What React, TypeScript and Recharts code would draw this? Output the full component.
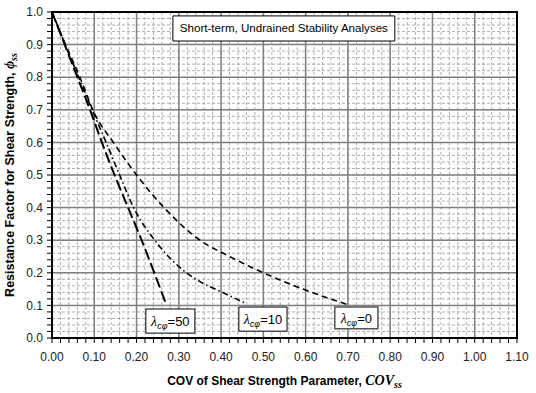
import { LineChart, Line, XAxis, YAxis, CartesianGrid, ReferenceArea } from "recharts"

// COV of shear strength vs resistance factor
const cov50 = [0, 0.03, 0.06, 0.09, 0.118, 0.148, 0.18, 0.212, 0.242, 0.271]
const phi50 = [1.0, 0.9, 0.8, 0.7, 0.6, 0.5, 0.4, 0.3, 0.2, 0.1]

const cov10 = [0, 0.031, 0.063, 0.095, 0.128, 0.16, 0.193, 0.243, 0.318, 0.35, 0.4, 0.455]
const phi10 = [1.0, 0.9, 0.8, 0.7, 0.6, 0.5, 0.4, 0.3, 0.2, 0.173, 0.142, 0.108]

const cov0 = [0, 0.032, 0.066, 0.1, 0.145, 0.2, 0.265, 0.35, 0.42, 0.5, 0.6, 0.7]
const phi0 = [1.0, 0.9, 0.8, 0.69, 0.6, 0.5, 0.4, 0.3, 0.25, 0.2, 0.147, 0.102]

const xMajor = [0, 0.1, 0.2, 0.3, 0.4, 0.5, 0.6, 0.7, 0.8, 0.9, 1.0, 1.1]
const yMajor = [0, 0.1, 0.2, 0.3, 0.4, 0.5, 0.6, 0.7, 0.8, 0.9, 1.0]
const X_DOMAIN: [number, number] = [0, 1.1]
const Y_DOMAIN: [number, number] = [0, 1]

const xMinor = Array.from({ length: 56 }, (_, i) => +(i * 0.02).toFixed(2))
const yMinor = Array.from({ length: 51 }, (_, i) => +(i * 0.02).toFixed(2))

const toPoints = (xs: number[], ys: number[]) => xs.map((x, i) => ({ x, y: ys[i] }))

const isMajor = (v: number) => Math.abs(v * 10 - Math.round(v * 10)) < 1e-6

// axis scale in recharts 3 may be a function or a wrapper object
function applyScale(axis: any, v: number, fallback: () => number) {
  const s = axis && axis.scale
  if (typeof s === "function") return s(v)
  if (s && typeof s.map === "function") return s.map(v)
  if (s && typeof s.apply === "function") return s.apply(v)
  return fallback()
}

const FONT = "'Liberation Sans', Arial, sans-serif"
const SERIF = "'Liberation Serif', serif"

function LambdaLabel({ viewBox, n }: any) {
  const { x, y, width, height } = viewBox
  return (
    <text x={x + width / 2} y={y + height / 2 + 5} textAnchor="middle" fontSize={13} fontFamily={FONT} fill="#000">
      <tspan fontStyle="italic" fontFamily={SERIF} fontSize={14}>λ</tspan>
      <tspan fontSize={9} dy={3} fontStyle="italic">cφ</tspan>
      <tspan dy={-3}>={n}</tspan>
    </text>
  )
}

function TitleLabel({ viewBox }: any) {
  const { x, y, width, height } = viewBox
  return (
    <text x={x + width / 2} y={y + height / 2 + 4} textAnchor="middle" fontSize={11.6} fontFamily={FONT} fill="#000">
      Short-term, Undrained Stability Analyses
    </text>
  )
}

export default function App() {
  return (
    <div style={{ position: "absolute", left: 0, top: 0, width: 536, height: 393, background: "#fff", fontFamily: FONT }}>
      <LineChart width={536} height={393} margin={{ top: 12, right: 19, bottom: 0, left: 0 }}>
        <CartesianGrid stroke="#9a9a9a" strokeWidth={0.8} strokeDasharray="3 2" />
        <CartesianGrid
          stroke="#808080"
          strokeWidth={1.5}
          verticalCoordinatesGenerator={({ xAxis, offset }: any) =>
            xMajor.map((v) =>
              applyScale(xAxis, v, () => offset.left + ((v - X_DOMAIN[0]) / (X_DOMAIN[1] - X_DOMAIN[0])) * offset.width)
            )
          }
          horizontalCoordinatesGenerator={({ yAxis, offset }: any) =>
            yMajor.map((v) =>
              applyScale(yAxis, v, () => offset.top + (1 - (v - Y_DOMAIN[0]) / (Y_DOMAIN[1] - Y_DOMAIN[0])) * offset.height)
            )
          }
        />
        <XAxis
          type="number"
          dataKey="x"
          domain={X_DOMAIN}
          ticks={xMinor}
          interval={0}
          height={55}
          tickSize={5}
          tickMargin={9}
          axisLine={{ stroke: "#000", strokeWidth: 2 }}
          tickLine={{ stroke: "#000" }}
          tick={{ fontSize: 12, fill: "#222", fontFamily: FONT }}
          tickFormatter={(v: number) => (isMajor(v) ? v.toFixed(2) : "")}
          label={(p: any) => (
            <text
              x={p.viewBox.x + p.viewBox.width / 2}
              y={385}
              textAnchor="middle"
              fontSize={12}
              fontWeight="bold"
              fontFamily={FONT}
              fill="#000"
            >
              COV of Shear Strength Parameter,{" "}
              <tspan fontFamily={SERIF} fontStyle="italic" fontSize={14}>COV</tspan>
              <tspan fontFamily={SERIF} fontStyle="italic" fontSize={10} dy={3}>ss</tspan>
            </text>
          )}
        />
        <YAxis
          type="number"
          domain={Y_DOMAIN}
          ticks={yMinor}
          interval={0}
          width={52}
          tickSize={5}
          tickMargin={4}
          axisLine={{ stroke: "#000", strokeWidth: 2 }}
          tickLine={{ stroke: "#000" }}
          tick={{ fontSize: 12, fill: "#222", fontFamily: FONT }}
          tickFormatter={(v: number) => (isMajor(v) ? v.toFixed(1) : "")}
          label={(p: any) => {
            const cy = p.viewBox.y + p.viewBox.height / 2
            return (
              <text
                x={14}
                y={cy}
                transform={`rotate(-90 14 ${cy})`}
                textAnchor="middle"
                fontSize={12.5}
                fontWeight="bold"
                fontFamily={FONT}
                fill="#000"
              >
                Resistance Factor for Shear Strength,{" "}
                <tspan fontFamily={SERIF} fontStyle="italic" fontSize={14}>ϕ</tspan>
                <tspan fontFamily={SERIF} fontStyle="italic" fontSize={10} dy={3}>ss</tspan>
              </text>
            )
          }}
        />
        <ReferenceArea x1={0} x2={1.1} y1={0} y2={1} fill="none" stroke="#000" strokeWidth={2} />
        <Line
          data={toPoints(cov0, phi0)}
          dataKey="y"
          type="monotone"
          stroke="#000"
          strokeWidth={1.6}
          strokeDasharray="6 4"
          dot={false}
          isAnimationActive={false}
        />
        <Line
          data={toPoints(cov10, phi10)}
          dataKey="y"
          type="monotone"
          stroke="#000"
          strokeWidth={1.6}
          strokeDasharray="6 3 1.5 3"
          dot={false}
          isAnimationActive={false}
        />
        <Line
          data={toPoints(cov50, phi50)}
          dataKey="y"
          type="monotone"
          stroke="#000"
          strokeWidth={2}
          strokeDasharray="11 4"
          dot={false}
          isAnimationActive={false}
        />
        <ReferenceArea
          x1={0.286}
          x2={0.811}
          y1={0.911}
          y2={0.988}
          fill="#fff"
          fillOpacity={1}
          stroke="#000"
          strokeWidth={1}
          label={(p: any) => <TitleLabel {...p} />}
        />
        <ReferenceArea
          x1={0.222}
          x2={0.338}
          y1={0.015}
          y2={0.089}
          fill="#fff"
          fillOpacity={1}
          stroke="#000"
          strokeWidth={1}
          label={(p: any) => <LambdaLabel {...p} n="50" />}
        />
        <ReferenceArea
          x1={0.442}
          x2={0.556}
          y1={0.021}
          y2={0.095}
          fill="#fff"
          fillOpacity={1}
          stroke="#000"
          strokeWidth={1}
          label={(p: any) => <LambdaLabel {...p} n="10" />}
        />
        <ReferenceArea
          x1={0.669}
          x2={0.771}
          y1={0.028}
          y2={0.095}
          fill="#fff"
          fillOpacity={1}
          stroke="#555"
          strokeWidth={1.5}
          label={(p: any) => <LambdaLabel {...p} n="0" />}
        />
      </LineChart>
    </div>
  )
}
